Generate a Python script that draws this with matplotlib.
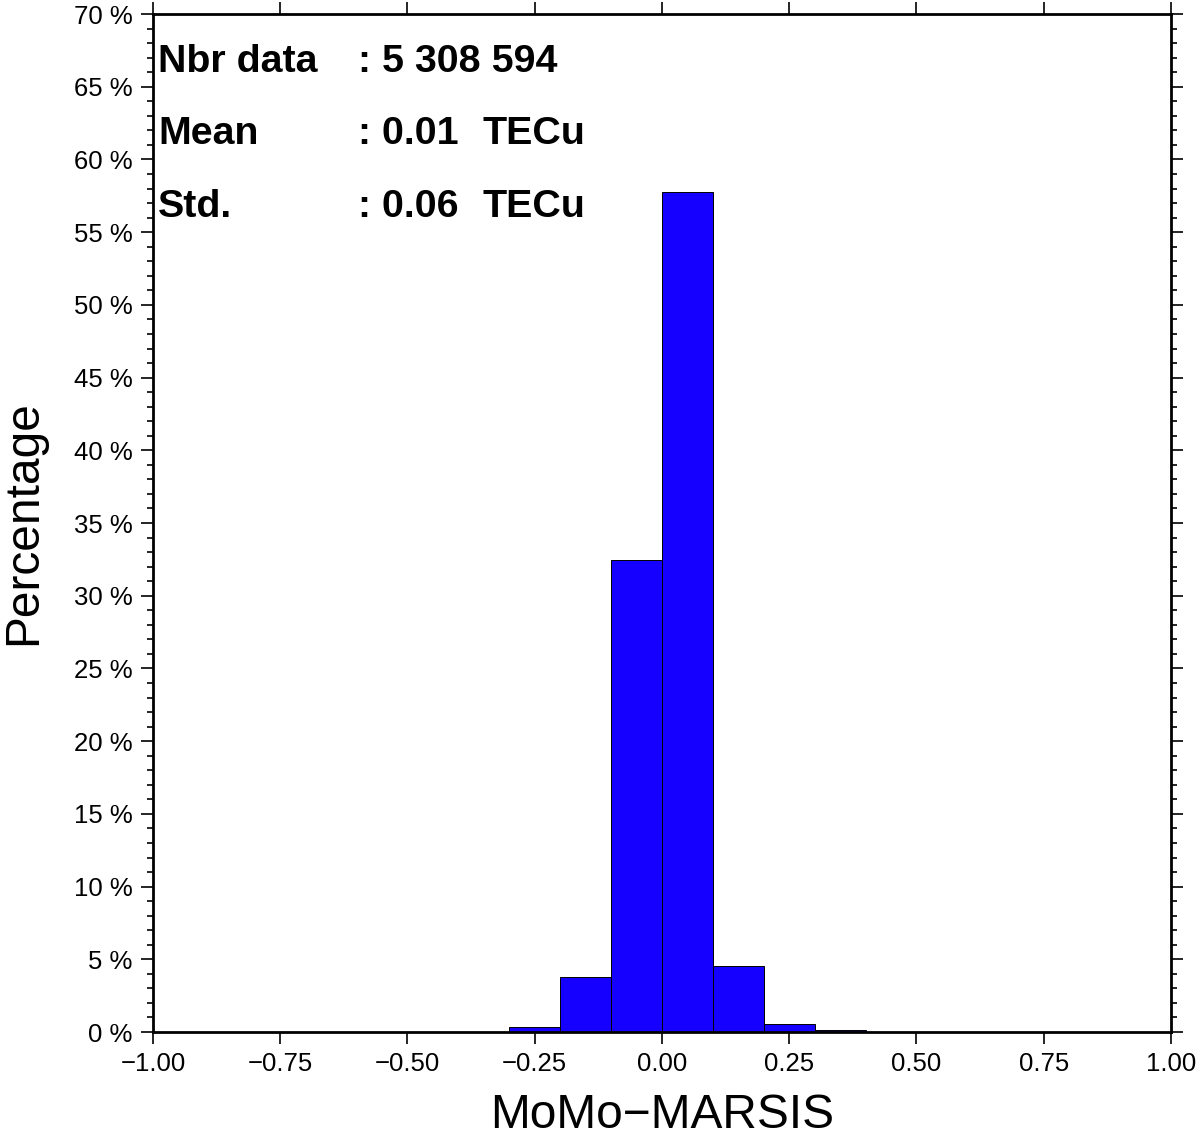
import matplotlib
matplotlib.use("Agg")
import matplotlib.pyplot as plt
from matplotlib.ticker import MultipleLocator, FuncFormatter

# histogram of MoMo - MARSIS differences (percent per 0.1 TECu bin)
bin_edges = [-0.3, -0.2, -0.1, 0.0, 0.1, 0.2, 0.3, 0.4]
percent = [0.35, 3.76, 32.46, 57.77, 4.54, 0.53, 0.16]

stat_names = ["Nbr data", "Mean", "Std."]
stat_values = [": 5 308 594", ": 0.01", ": 0.06"]
stat_units = ["", "TECu", "TECu"]

plt.rcParams['font.family'] = ['Liberation Sans', 'DejaVu Sans']

fig = plt.figure(figsize=(12, 11.43), dpi=100)
ax = fig.add_axes([0.1275, 0.0971, 0.8483, 0.8906])

widths = [b - a for a, b in zip(bin_edges[:-1], bin_edges[1:])]
ax.bar(bin_edges[:-1], percent, width=widths, align='edge',
       color='#1500ff', edgecolor='black', linewidth=0.7)

ax.set_xlim(-1, 1)
ax.set_ylim(0, 70)
ax.xaxis.set_major_locator(MultipleLocator(0.25))
ax.xaxis.set_major_formatter(FuncFormatter(lambda v, p: f"{v:.2f}".replace("-", "\u2212")))
ax.yaxis.set_major_locator(MultipleLocator(5))
ax.yaxis.set_minor_locator(MultipleLocator(1))
ax.yaxis.set_major_formatter(FuncFormatter(lambda v, p: f"{v:.0f} %"))

for s in ax.spines.values():
    s.set_linewidth(2)
ax.tick_params(axis='both', which='major', direction='out', length=8.5,
               width=1.2, labelsize=18.5, top=True, right=True)
ax.tick_params(axis='y', which='minor', direction='out', length=4.5,
               width=1.2, right=True)
ax.tick_params(axis='x', which='major', pad=6)
ax.tick_params(axis='y', which='major', pad=6)

ax.set_xlabel("MoMo\u2212MARSIS", fontsize=34.5, labelpad=12)
ax.set_ylabel("Percentage", fontsize=34.5, labelpad=20)

row_y = [0.943, 0.872, 0.801]
for name, val, unit, y in zip(stat_names, stat_values, stat_units, row_y):
    ax.text(0.005, y, name, transform=ax.transAxes, fontsize=28.4,
            fontweight='bold', va='baseline')
    ax.text(0.201, y, val, transform=ax.transAxes, fontsize=28.4,
            fontweight='bold', va='baseline')
    if unit:
        ax.text(0.324, y, unit, transform=ax.transAxes, fontsize=28.4,
                fontweight='bold', va='baseline')

fig.savefig("out.png", dpi=100)
